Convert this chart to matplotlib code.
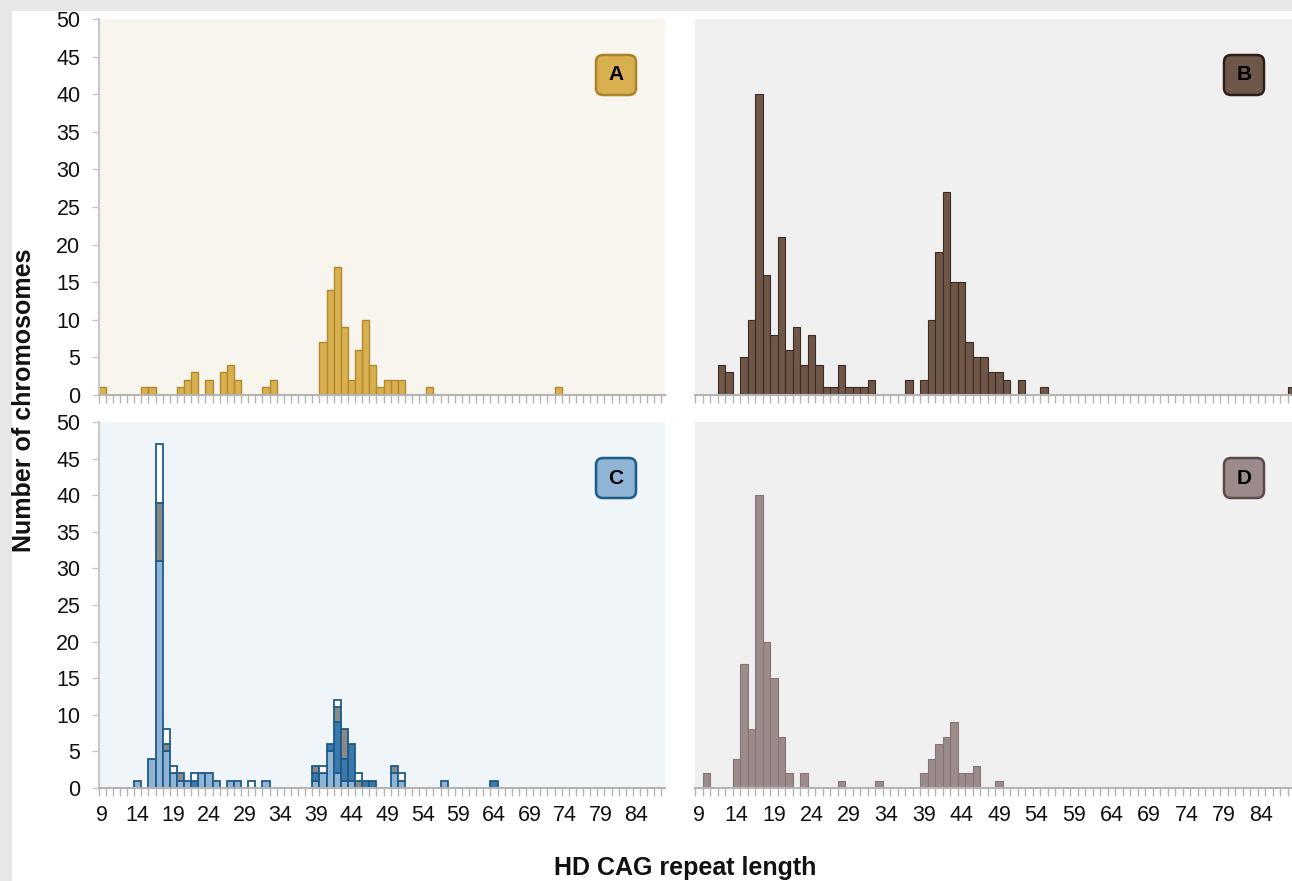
import matplotlib
matplotlib.use("Agg")
import matplotlib.pyplot as plt
import numpy as np
from matplotlib.patches import FancyBboxPatch, Rectangle
from matplotlib.transforms import IdentityTransform
from matplotlib.ticker import FixedLocator, NullFormatter

plt.rcParams['font.family'] = ['Liberation Sans', 'DejaVu Sans']

# ---------------- data ----------------
a_bins = [9, 15, 16, 20, 21, 22, 24, 26, 27, 28, 32, 33, 40, 41, 42, 43, 44, 45, 46, 47, 48, 49, 50, 51, 55, 73]
a_counts = [1, 1, 1, 1, 2, 3, 2, 3, 4, 2, 1, 2, 7, 14, 17, 9, 2, 6, 10, 4, 1, 2, 2, 2, 1, 1]

b_bins = [12, 13, 15, 16, 17, 18, 19, 20, 21, 22, 23, 24, 25, 26, 27, 28, 29, 30, 31, 32,
          37, 39, 40, 41, 42, 43, 44, 45, 46, 47, 48, 49, 50, 52, 55, 88]
b_counts = [4, 3, 5, 10, 40, 16, 8, 21, 6, 9, 4, 8, 4, 1, 1, 4, 1, 1, 1, 2,
            2, 2, 10, 19, 27, 15, 15, 7, 5, 5, 3, 3, 2, 2, 1, 1]

# panel C: stacked layers (bottom to top)
c_light_bins = [14, 16, 17, 18, 19, 20, 21, 23, 24, 25, 27, 28, 32, 39, 40, 41, 42, 43, 44, 50, 51, 57]
c_light_counts = [1, 4, 31, 5, 2, 1, 1, 2, 2, 1, 1, 1, 1, 1, 2, 5, 2, 1, 1, 2, 1, 1]
c_dark_bins = [22, 39, 41, 42, 43, 44, 46, 47, 64]
c_dark_counts = [1, 1, 1, 7, 3, 5, 1, 1, 1]
c_gray_bins = [17, 18, 20, 39, 42, 43, 45, 50]
c_gray_counts = [8, 1, 1, 1, 2, 4, 1, 1]
c_white_bins = [17, 18, 19, 22, 30, 40, 42, 45, 51]
c_white_counts = [8, 2, 1, 1, 1, 1, 1, 1, 1]

d_bins = [10, 14, 15, 16, 17, 18, 19, 20, 21, 23, 28, 33, 39, 40, 41, 42, 43, 44, 45, 46, 49]
d_counts = [2, 4, 17, 8, 40, 20, 15, 7, 2, 2, 1, 1, 2, 4, 6, 7, 9, 2, 2, 3, 1]

x_labels = [9, 14, 19, 24, 29, 34, 39, 44, 49, 54, 59, 64, 69, 74, 79, 84]
y_ticks = [0, 5, 10, 15, 20, 25, 30, 35, 40, 45, 50]

# ---------------- figure ----------------
W, H = 1292, 881
fig = plt.figure(figsize=(W / 100, H / 100), dpi=100)
fig.patch.set_facecolor('#e6e7e9')
fig.add_artist(Rectangle((12 / W, 0), 1 - 12 / W, 1 - 11 / H, transform=fig.transFigure,
                         facecolor='white', edgecolor='none', zorder=-10))


def px_axes(x0, x1, ytop, ybot):
    return fig.add_axes([x0 / W, 1 - ybot / H, (x1 - x0) / W, (ybot - ytop) / H])


edge_col = '#b4b4b4'


def style_axes(ax, bg, left_axis, show_xlabels, xmax):
    ax.set_facecolor(bg)
    ax.set_xlim(8.5, xmax)
    ax.set_ylim(0, 50)
    for s in ['top', 'right']:
        ax.spines[s].set_visible(False)
    ax.spines['bottom'].set_color(edge_col)
    ax.spines['bottom'].set_linewidth(1.5)
    ax.xaxis.set_major_locator(FixedLocator(x_labels))
    ax.xaxis.set_minor_locator(FixedLocator(np.arange(8.5, 89.6, 1.0)))
    ax.tick_params(axis='x', which='major', length=0, pad=12, labelsize=15.5, colors='#111111')
    ax.tick_params(axis='x', which='minor', length=6, width=1, color=edge_col)
    if not show_xlabels:
        ax.xaxis.set_major_formatter(NullFormatter())
    if left_axis:
        ax.spines['left'].set_color('#c8c8c8')
        ax.spines['left'].set_linewidth(1.5)
        ax.set_yticks(y_ticks)
        ax.tick_params(axis='y', length=5, width=1, color='#c8c8c8', pad=8,
                       labelsize=15.5, labelcolor='#111111')
    else:
        ax.spines['left'].set_visible(False)
        ax.set_yticks([])


def badge(cx, cy, letter, face, edge):
    w = h = 40
    x0 = cx - w / 2
    y0 = (H - cy) - h / 2
    p = FancyBboxPatch((x0, y0), w, h, boxstyle="round,pad=0,rounding_size=7",
                       facecolor=face, edgecolor=edge, linewidth=1.8,
                       transform=IdentityTransform())
    fig.add_artist(p)
    fig.text(cx / W, 1 - cy / H, letter, ha='center', va='center',
             fontsize=15, fontweight='bold', color='black')


# Panel A
axA = px_axes(98.5, 665, 19, 395)
style_axes(axA, '#f8f4ee', True, False, 88.0)
axA.bar(a_bins, a_counts, width=1.0, color='#d9b04f', edgecolor='#b08a2e', linewidth=1.0)

# Panel B
axB = px_axes(695.25, 1295.25, 19, 395)
style_axes(axB, '#f0f0f0', False, False, 88.5)
axB.bar(b_bins, b_counts, width=1.0, color='#6e5649', edgecolor='#3d2c22', linewidth=0.8)

# Panel C
axC = px_axes(98.5, 665, 422, 788)
style_axes(axC, '#eff5f9', True, True, 88.0)
c_edge = '#1f5b87'
bottom = {}


def stack(ax, bins, counts, color):
    bots = [bottom.get(b, 0) for b in bins]
    ax.bar(bins, counts, bottom=bots, width=1.0, color=color, edgecolor=c_edge, linewidth=1.3)
    for b, c in zip(bins, counts):
        bottom[b] = bottom.get(b, 0) + c


stack(axC, c_light_bins, c_light_counts, '#8fb4d6')
stack(axC, c_dark_bins, c_dark_counts, '#3b78ab')
stack(axC, c_gray_bins, c_gray_counts, '#8a8a8a')
stack(axC, c_white_bins, c_white_counts, '#ffffff')

# Panel D
axD = px_axes(695.25, 1295.25, 422, 788)
style_axes(axD, '#f0f0f0', False, True, 88.5)
axD.bar(d_bins, d_counts, width=1.0, color='#9b8b8b', edgecolor='#857575', linewidth=0.8)

badge(616, 75, 'A', '#d9b04f', '#a8842c')
badge(1244, 75, 'B', '#6e5649', '#2e1f18')
badge(616, 478, 'C', '#8fb4d6', '#1f5b87')
badge(1244, 478, 'D', '#9b8b8b', '#5a4a4a')

fig.text(24 / W, 1 - 400 / H, 'Number of chromosomes', rotation=90, ha='center', va='center',
         fontsize=18, fontweight='bold', color='#111111')
fig.text(685 / W, 1 - 868 / H, 'HD CAG repeat length', ha='center', va='center',
         fontsize=18, fontweight='bold', color='#111111')

fig.savefig('out.png', dpi=100, facecolor=fig.get_facecolor())
